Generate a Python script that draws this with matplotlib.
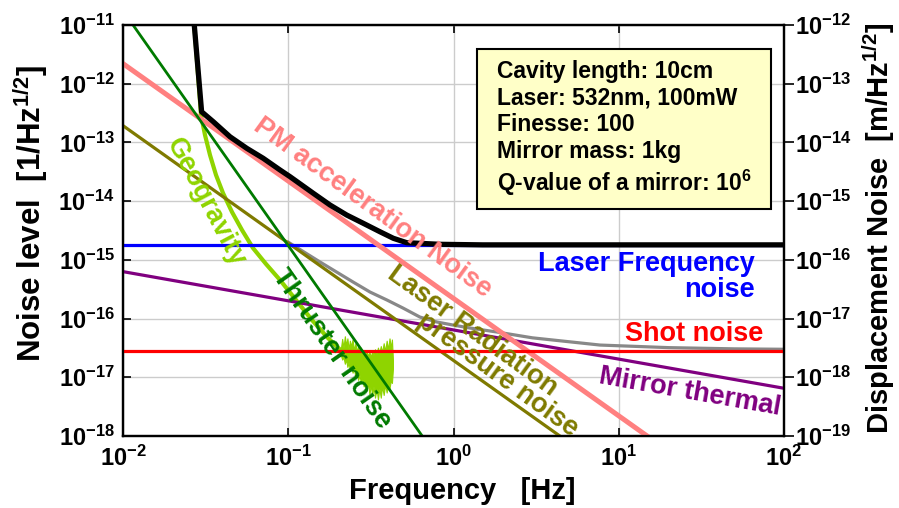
import matplotlib
matplotlib.use('Agg')
import matplotlib.pyplot as plt
from matplotlib.patches import Rectangle
from matplotlib.ticker import NullLocator

# ---------------- data ----------------
pm_freq = [0.01, 15.0]
pm_noise = [2.2e-12, 9.8e-19]

rp_freq = [0.01, 4.4]
rp_noise = [1.93e-13, 1.0e-18]

thruster_freq = [0.0115, 0.64]
thruster_noise = [1.0e-11, 1.04e-18]

thermal_freq = [0.01, 100.0]
thermal_noise = [6.3e-16, 6.5e-18]

lfn_freq = [0.01, 100.0]
lfn_noise = [1.8e-15, 1.8e-15]

shot_freq = [0.01, 100.0]
shot_noise = [2.75e-17, 2.75e-17]

total_freq = [0.0270, 0.0299, 0.0352, 0.0444, 0.0561, 0.0706, 0.0892, 0.1025,
              0.1418, 0.179, 0.2258, 0.2846, 0.359, 0.4322, 0.5209, 0.8286,
              1.5, 100.0]
total_noise = [1.0e-11, 3.33e-13, 2.25e-13, 1.25e-13, 7.94e-14, 5.36e-14, 3.39e-14,
               2.61e-14, 1.36e-14, 8.59e-15, 5.8e-15, 4.19e-15, 3.01e-15, 2.33e-15,
               1.96e-15, 1.84e-15, 1.8e-15, 1.8e-15]

gray_freq = [0.1, 0.1556, 0.2465, 0.3125, 0.3957, 0.4949, 0.627, 0.7946, 0.993,
             1.259, 1.833, 3.0, 7.7, 20.0, 50.0, 100.0]
gray_noise = [2.0e-15, 9.2e-16, 4.2e-16, 2.83e-16, 2.07e-16, 1.51e-16, 1.06e-16,
              8.73e-17, 7.76e-17, 6.9e-17, 5.9e-17, 4.7e-17, 3.54e-17, 3.2e-17,
              3.05e-17, 3.0e-17]

geo_freq = [0.0270, 0.02965, 0.03134, 0.03361, 0.03654, 0.04028, 0.04567, 0.0525,
            0.06118, 0.07334, 0.08915, 0.1114, 0.1392, 0.1739, 0.205]
geo_noise = [1.0e-11, 2.93e-13, 1.34e-13, 6.1e-14, 2.79e-14, 1.375e-14, 6.53e-15,
             3.22e-15, 1.59e-15, 8.5e-16, 4.54e-16, 2.07e-16, 9.45e-17, 4.66e-17,
             3.0e-17]

geo_burst_freq = [0.208, 0.212, 0.216, 0.220, 0.224, 0.228, 0.232, 0.236, 0.240,
                  0.245, 0.250, 0.255, 0.260, 0.265, 0.270, 0.275, 0.280, 0.286,
                  0.292, 0.298, 0.304, 0.310, 0.316, 0.322, 0.328, 0.335, 0.342,
                  0.349, 0.356, 0.363, 0.370, 0.378, 0.386, 0.394, 0.402, 0.410,
                  0.418, 0.424, 0.430]
geo_burst_high = [3.0e-17, 4.5e-17, 3.2e-17, 5.0e-17, 3.5e-17, 4.6e-17, 3.0e-17,
                  4.2e-17, 3.4e-17, 4.4e-17, 2.9e-17, 3.8e-17, 2.7e-17, 3.5e-17,
                  2.6e-17, 3.2e-17, 2.4e-17, 2.9e-17, 2.2e-17, 2.8e-17, 2.3e-17,
                  2.7e-17, 2.2e-17, 2.8e-17, 2.4e-17, 3.0e-17, 2.5e-17, 3.2e-17,
                  2.6e-17, 3.4e-17, 2.7e-17, 3.8e-17, 2.8e-17, 4.2e-17, 3.0e-17,
                  4.6e-17, 3.2e-17, 4.4e-17, 2.0e-17]
geo_burst_low = [2.4e-17, 2.0e-17, 2.2e-17, 1.7e-17, 2.0e-17, 1.5e-17, 1.8e-17,
                 1.3e-17, 1.6e-17, 1.2e-17, 1.4e-17, 1.0e-17, 1.3e-17, 9.0e-18,
                 1.1e-17, 8.0e-18, 1.0e-17, 7.0e-18, 9.0e-18, 6.0e-18, 8.0e-18,
                 5.2e-18, 7.5e-18, 4.8e-18, 7.0e-18, 4.5e-18, 6.5e-18, 4.2e-18,
                 6.5e-18, 4.5e-18, 7.0e-18, 5.0e-18, 7.5e-18, 5.5e-18, 8.0e-18,
                 6.5e-18, 9.0e-18, 8.0e-18, 1.4e-17]

x_ticks = [1e-2, 1e-1, 1e0, 1e1, 1e2]
x_tick_labels = [r'$10^{-2}$', r'$10^{-1}$', r'$10^{0}$', r'$10^{1}$', r'$10^{2}$']
y_ticks = [1e-18, 1e-17, 1e-16, 1e-15, 1e-14, 1e-13, 1e-12, 1e-11]
y_tick_labels = [r'$10^{-18}$', r'$10^{-17}$', r'$10^{-16}$', r'$10^{-15}$',
                 r'$10^{-14}$', r'$10^{-13}$', r'$10^{-12}$', r'$10^{-11}$']
y2_ticks = [1e-19, 1e-18, 1e-17, 1e-16, 1e-15, 1e-14, 1e-13, 1e-12]
y2_tick_labels = [r'$10^{-19}$', r'$10^{-18}$', r'$10^{-17}$', r'$10^{-16}$',
                  r'$10^{-15}$', r'$10^{-14}$', r'$10^{-13}$', r'$10^{-12}$']

box_lines = ['Cavity length: 10cm', 'Laser: 532nm, 100mW', 'Finesse: 100',
             'Mirror mass: 1kg', r'Q-value of a mirror: 10$^{6}$']

# ---------------- style ----------------
plt.rcParams.update({
    'font.family': ['Liberation Sans', 'DejaVu Sans'],
    'font.weight': 'bold',
    'mathtext.fontset': 'custom',
    'mathtext.rm': 'Liberation Sans:bold',
    'mathtext.it': 'Liberation Sans:bold',
    'mathtext.bf': 'Liberation Sans:bold',
    'mathtext.sf': 'Liberation Sans:bold',
})

W, H = 899, 508
fig = plt.figure(figsize=(W / 100, H / 100), dpi=100)
ax = fig.add_axes([123 / W, 1 - 436 / H, 661 / W, 411 / H])
ax.set_xscale('log')
ax.set_yscale('log')
ax.set_xlim(1e-2, 1e2)
ax.set_ylim(1e-18, 1e-11)

ax.grid(True, which='major', color='#cccccc', lw=1.0, zorder=0)
ax.set_axisbelow(True)

C_PM = '#ff8080'
C_RP = '#7f7a00'
C_THR = '#007a00'
C_GEO = '#8fd400'
C_TH = '#800080'

ax.plot(gray_freq, gray_noise, color='#888888', lw=2.3, zorder=2)
ax.plot(geo_freq, geo_noise, color=C_GEO, lw=3.0, zorder=2.5)
ax.fill_between(geo_burst_freq, geo_burst_low, geo_burst_high, color=C_GEO,
                lw=0.8, zorder=2.5)
ax.plot(thermal_freq, thermal_noise, color=C_TH, lw=2.3, zorder=3)
ax.plot(rp_freq, rp_noise, color=C_RP, lw=2.3, zorder=3)
ax.plot(lfn_freq, lfn_noise, color='#0000ff', lw=2.3, zorder=3)
ax.plot(shot_freq, shot_noise, color='#ff0000', lw=2.3, zorder=3.5)
ax.plot(pm_freq, pm_noise, color=C_PM, lw=3.6, zorder=3.2)
ax.plot(thruster_freq, thruster_noise, color=C_THR, lw=2.0, zorder=3.6)
ax.plot(total_freq, total_noise, color='black', lw=3.8, zorder=4)

# ticks
ax.set_xticks(x_ticks, x_tick_labels)
ax.set_yticks(y_ticks, y_tick_labels)
ax.xaxis.set_minor_locator(NullLocator())
ax.yaxis.set_minor_locator(NullLocator())
ax.tick_params(axis='both', which='major', direction='in', length=6, width=1.2,
               labelsize=17, top=True, right=False)
ax.tick_params(axis='x', pad=7)
ax.tick_params(axis='y', pad=6)
for s in ax.spines.values():
    s.set_linewidth(1.6)

ax2 = ax.twinx()
ax2.set_yscale('log')
ax2.set_ylim(1e-19, 1e-12)
ax2.set_yticks(y2_ticks, y2_tick_labels)
ax2.yaxis.set_minor_locator(NullLocator())
ax2.tick_params(axis='y', direction='out', length=7, width=1.2, labelsize=17, pad=1)
for s in ax2.spines.values():
    s.set_linewidth(1.6)

# annotations
tk = dict(transform=ax.transAxes, ha='center', va='center', rotation_mode='anchor',
          fontsize=19.5, zorder=6)
ax.text(0.378, 0.555, 'PM acceleration Noise', color=C_PM, rotation=-36, **tk)
ax.text(0.1256, 0.567, 'Geogravity', color=C_GEO, rotation=-62, **tk)
ax.text(0.316, 0.212, 'Thruster noise', color=C_THR, rotation=-55, **tk)
ax.text(0.528, 0.2555, 'Laser Radiation', color=C_RP, rotation=-36, **tk)
ax.text(0.5658, 0.148, 'pressure noise', color=C_RP, rotation=-36, **tk)
ax.text(0.858, 0.107, 'Mirror thermal', color=C_TH, rotation=-10, **tk)
ax.text(0.956, 0.386, 'Laser Frequency\nnoise', color='#0000ff', transform=ax.transAxes,
        ha='right', va='center', fontsize=19.5, linespacing=1.0, zorder=6)
ax.text(0.968, 0.248, 'Shot noise', color='#ff0000', transform=ax.transAxes,
        ha='right', va='center', fontsize=19.5, zorder=6)

# parameter box
ax.add_patch(Rectangle((0.5356, 0.5523), 0.4447, 0.3893, transform=ax.transAxes,
                       facecolor='#ffffc8', edgecolor='black', lw=1.5, zorder=10))
ax.text(0.5658, 0.747, '\n'.join(box_lines), transform=ax.transAxes, ha='left',
        va='center', fontsize=16.5, linespacing=1.2, zorder=11)

# axis labels
fig.text(31 / W, 1 - 213 / H, r'Noise level  [1/Hz$^{1/2}$]', rotation=90,
         ha='center', va='center', fontsize=22.5)
fig.text(879 / W, 1 - 228 / H, r'Displacement Noise  [m/Hz$^{1/2}$]', rotation=90,
         ha='center', va='center', fontsize=21)
fig.text(462 / W, 1 - 491 / H, 'Frequency   [Hz]', ha='center', va='center',
         fontsize=21)

fig.savefig('out.png', dpi=100)
